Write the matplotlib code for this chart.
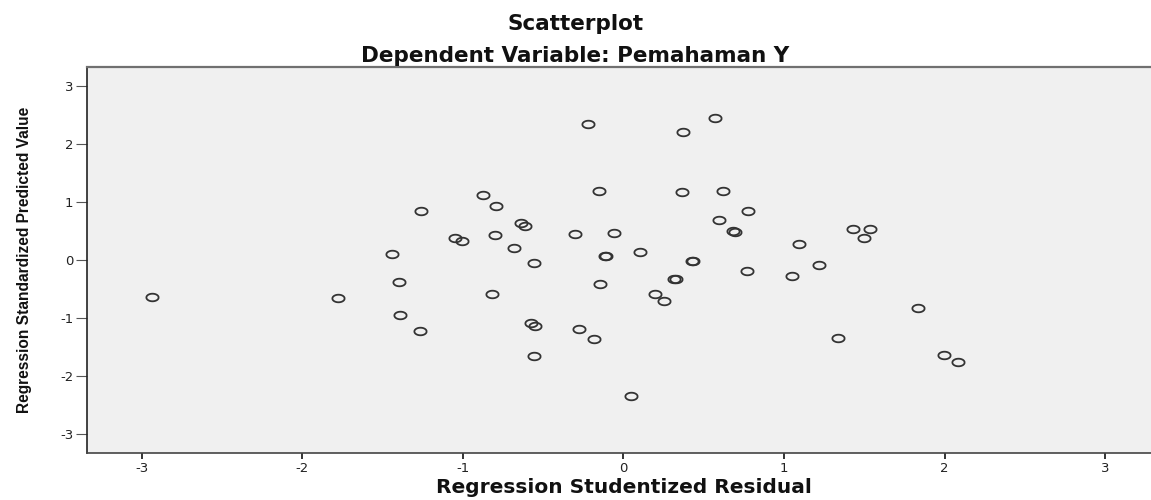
#Scatterplot of standardized predicted values vs studentized residuals
import numpy as np
import matplotlib
matplotlib.use('Agg')
import matplotlib.pyplot as plt

plt.rcParams['axes.unicode_minus'] = False

#Values
studentized_residual = [-2.935, -1.781, -1.442, -1.397, -1.389, -1.268, -1.262, -0.876,
                        -0.791, -1.050, -1.006, -0.803, -0.683, -0.637, -0.612, -0.560,
                        -0.820, -0.575, -0.550, -0.560, -0.278, -0.182, -0.303, -0.218,
                        -0.153, -0.149, -0.116, -0.106, -0.056, 0.102, 0.048, 0.197,
                        0.253, 0.318, 0.326, 0.424, 0.432, 0.363, 0.374, 0.573,
                        0.623, 0.594, 0.681, 0.697, 0.778, 0.770, 1.092, 1.049,
                        1.217, 1.430, 1.536, 1.501, 1.837, 1.337, 1.995, 2.082]
standardized_predicted = [-0.644, -0.651, 0.098, -0.386, -0.956, -1.226, 0.846, 1.123,
                          0.938, 0.385, 0.328, 0.437, 0.202, 0.639, 0.582, -0.052,
                          -0.582, -1.083, -1.134, -1.664, -1.192, -1.370, 0.455, 2.355,
                          1.192, -0.409, 0.066, 0.062, 0.472, 0.138, -2.355, -0.582,
                          -0.703, -0.320, -0.324, -0.021, -0.025, 1.180, 2.216, 2.447,
                          1.186, 0.685, 0.507, 0.484, 0.846, -0.190, 0.276, -0.276,
                          -0.086, 0.541, 0.541, 0.385, -0.829, -1.342, -1.646, -1.762]
x_ticks = [-3, -2, -1, 0, 1, 2, 3]
y_ticks = [-3, -2, -1, 0, 1, 2, 3]

#Open ellipse marker (the original picture is stretched sideways)
t = np.linspace(0, 2*np.pi, 60)
ellipse = list(zip(np.cos(t), 0.62*np.sin(t)))

fig = plt.figure(figsize=(11.51, 5.0), dpi=100)
ax = fig.add_axes([0.0758, 0.0934, 0.9317, 0.7732])
ax.set_facecolor('#f0f0f0')

ax.plot(studentized_residual, standardized_predicted, linestyle='none', marker=ellipse,
        markersize=8.8, markerfacecolor='none', markeredgecolor='#333333',
        markeredgewidth=1.3)

ax.set_xlim(-3.34, 3.34)
ax.set_ylim(-3.34, 3.34)
ax.set_xticks(x_ticks)
ax.set_yticks(y_ticks)
ax.tick_params(axis='x', direction='out', length=4.3, width=1.4, color='#333333',
               pad=2, labelsize=9.5, labelcolor='#222222')
ax.tick_params(axis='y', direction='out', length=8, width=0.8, color='#555555',
               pad=2, labelsize=9.5, labelcolor='#222222')

ax.spines['top'].set_color('#707070')
ax.spines['top'].set_linewidth(1.6)
ax.spines['bottom'].set_color('#444444')
ax.spines['bottom'].set_linewidth(1.2)
ax.spines['left'].set_color('#222222')
ax.spines['left'].set_linewidth(1.2)
ax.spines['right'].set_visible(False)

ax.set_xlabel('Regression Studentized Residual', fontsize=14.5, fontweight='bold',
              family='DejaVu Sans', color='#111111')
ax.xaxis.set_label_coords(0.5, -0.064)
ax.set_ylabel('Regression Standardized Predicted Value', fontsize=11.2, fontweight='bold',
              family='Liberation Sans', color='#111111')
ax.yaxis.set_label_coords(-0.0516, 0.5)

fig.text(0.5, 0.94, 'Scatterplot', ha='center', va='baseline', fontsize=15.5,
         fontweight='bold', family='DejaVu Sans', color='#111111')
fig.text(0.5, 0.8766, 'Dependent Variable: Pemahaman Y', ha='center', va='baseline',
         fontsize=15.5, fontweight='bold', family='DejaVu Sans', color='#111111')

plt.savefig('out.png', dpi=100)
